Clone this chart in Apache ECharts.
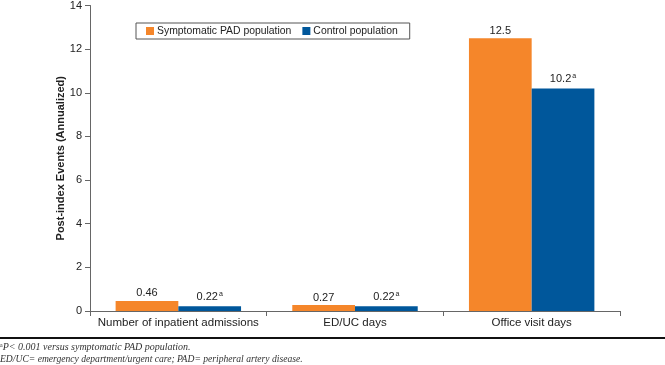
<!DOCTYPE html>
<html>
<head>
<meta charset="utf-8">
<script src="https://cdn.jsdelivr.net/npm/echarts@6/dist/echarts.min.js"></script>
<style>
  html, body { margin: 0; padding: 0; background: #fff; }
  #chart { width: 665px; height: 365px; }
</style>
</head>
<body>
<div id="chart"></div>
<script>
// values
const categories = ['Number of inpatient admissions', 'ED/UC days', 'Office visit days'];
const padValues = [0.46, 0.27, 12.5];
const controlValues = [0.22, 0.22, 10.2];
const controlSignificant = [true, true, true];   // superscript a = P<0.001
const seriesNames = ['Symptomatic PAD population', 'Control population'];
const yTicks = [0, 2, 4, 6, 8, 10, 12, 14];

const ORANGE = '#f5862a';
const BLUE = '#00579b';
const TEXT = '#222';
const font = "'Liberation Sans', Arial, sans-serif";
const serif = "'Liberation Serif', 'DejaVu Serif', serif";

const chart = echarts.init(document.getElementById('chart'));

const valueLabel = {
  show: true, position: 'top', distance: 2,
  color: TEXT, fontSize: 11, fontFamily: font
};

chart.setOption({
  animation: false,
  textStyle: { fontFamily: font },
  grid: { left: 90, right: 45, top: 3, bottom: 54 },
  legend: {
    left: 136, top: 23,
    padding: [3, 12, 3, 10],
    borderColor: '#555', borderWidth: 1,
    icon: 'rect', itemWidth: 8, itemHeight: 8, itemGap: 11,
    textStyle: { color: TEXT, fontSize: 10.4, fontFamily: font, padding: [0, 0, 0, -2] },
    data: seriesNames
  },
  xAxis: {
    type: 'category', data: categories,
    axisLine: { lineStyle: { color: '#666', width: 1 } },
    axisTick: { show: true, length: 5, lineStyle: { color: '#666' } },
    axisLabel: { color: TEXT, fontSize: 11.5, fontFamily: font, margin: 6, interval: 0 }
  },
  yAxis: {
    type: 'value', min: yTicks[0], max: yTicks[yTicks.length - 1], interval: 2,
    name: 'Post-index Events (Annualized)',
    nameLocation: 'middle', nameGap: 24, nameRotate: 90,
    nameMoveOverlap: false,
    nameTextStyle: { color: TEXT, fontSize: 11, fontWeight: 'bold', fontFamily: font },
    axisLine: { show: true, lineStyle: { color: '#666', width: 1 } },
    axisTick: { show: true, inside: false, length: 5, lineStyle: { color: '#666' } },
    axisLabel: { color: TEXT, fontSize: 11, fontFamily: font, margin: 8 },
    splitLine: { show: false }
  },
  series: [
    {
      name: seriesNames[0], type: 'bar', data: padValues,
      barGap: '0%', barCategoryGap: '29%',
      itemStyle: { color: ORANGE },
      label: valueLabel
    },
    {
      name: seriesNames[1], type: 'bar',
      data: controlValues,
      barGap: '0%', barCategoryGap: '29%',
      itemStyle: { color: BLUE },
      label: {
        ...valueLabel,
        formatter: (p) => controlSignificant[p.dataIndex] ? '{v|' + p.value + '}{s|a}' : String(p.value),
        rich: {
          v: { color: TEXT, fontSize: 11, fontFamily: font },
          s: { color: TEXT, fontSize: 7, fontFamily: font, verticalAlign: 'top', padding: [0, 0, 7, 1] }
        }
      }
    }
  ],
  graphic: [
    {
      type: 'rect', left: 0, top: 337,
      shape: { width: 665, height: 2 },
      style: { fill: '#111' }
    },
    {
      type: 'text', left: 0, top: 342,
      style: {
        text: '{s|a}{t|P< 0.001 versus symptomatic PAD population.}',
        rich: {
          s: { fontSize: 6, fontFamily: serif, fill: '#333', verticalAlign: 'top', padding: [0, 0, 4, 0] },
          t: { fontSize: 10, fontStyle: 'italic', fontFamily: serif, fill: '#333' }
        }
      }
    },
    {
      type: 'text', left: 0, top: 354,
      style: {
        text: 'ED/UC= emergency department/urgent care; PAD= peripheral artery disease.',
        font: "italic 9.6px 'Liberation Serif', 'DejaVu Serif', serif",
        fill: '#333'
      }
    }
  ]
});
</script>
</body>
</html>
